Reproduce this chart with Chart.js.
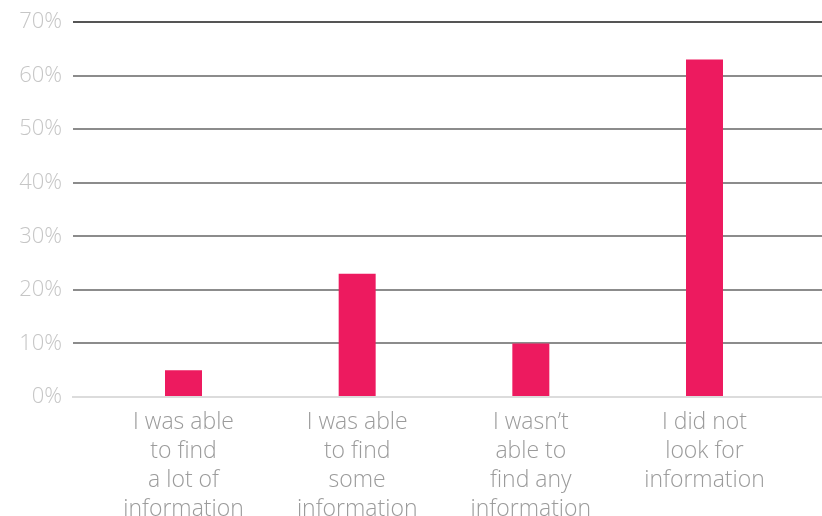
<!DOCTYPE html>
<html>
<head>
<meta charset="utf-8">
<script src="https://cdn.jsdelivr.net/npm/chart.js@4/dist/chart.umd.min.js"></script>
<style>
  html, body { margin: 0; padding: 0; background: #ffffff; }
  #wrap { width: 822px; height: 516px; }
</style>
</head>
<body>
<div id="wrap"><canvas id="infoChart" width="822" height="516"></canvas></div>
<script>
// Answer categories (multi-line labels as shown under each bar)
const categories = [
    ['I was able', 'to find', 'a lot of', 'information'],
    ['I was able', 'to find', 'some', 'information'],
    ['I wasn\u2019t', 'able to', 'find any', 'information'],
    ['I did not', 'look for', 'information']
];

// Share of respondents, in percent
const shares = [5, 23, 10, 63];

// Y axis ticks
const yTicks = [0, 10, 20, 30, 40, 50, 60, 70];

const FONT = '"Open Sans", "DejaVu Sans", sans-serif';

const ctx = document.getElementById('infoChart');

new Chart(ctx, {
    type: 'bar',
    data: {
        datasets: [{
            label: 'Share',
            data: shares.map((v, i) => ({ x: i, y: v })),
            backgroundColor: '#ED1A5F',
            borderWidth: 0,
            categoryPercentage: 1,
            barPercentage: 0.213
        }]
    },
    options: {
        responsive: false,
        animation: false,
        layout: {
            padding: { top: 20, right: 0, bottom: 0, left: 0 }
        },
        plugins: {
            legend: { display: false },
            tooltip: { enabled: false }
        },
        scales: {
            x: {
                type: 'linear',
                offset: false,
                min: -0.6363,
                max: 3.6766,
                afterBuildTicks: function (scale) {
                    scale.ticks = categories.map((c, i) => ({ value: i }));
                },
                afterFit: function (scale) {
                    scale.height = 119;
                },
                grid: {
                    display: false,
                    drawTicks: false
                },
                border: {
                    display: true,
                    color: '#dcdcdc',
                    width: 2
                },
                ticks: {
                    autoSkip: false,
                    maxRotation: 0,
                    padding: 11,
                    color: '#9b9b9b',
                    font: { family: FONT, size: 23, weight: '300', lineHeight: 1.26 },
                    callback: function (value) {
                        return categories[value] || '';
                    }
                }
            },
            y: {
                min: 0,
                max: 70,
                afterBuildTicks: function (scale) {
                    scale.ticks = yTicks.map(v => ({ value: v }));
                },
                afterFit: function (scale) {
                    scale.width = 73;
                },
                border: { display: false },
                grid: {
                    drawTicks: false,
                    lineWidth: 2,
                    color: function (c) {
                        if (c.tick.value === 0) return '#dcdcdc';
                        if (c.tick.value === 70) return '#555555';
                        return '#8c8c8c';
                    }
                },
                ticks: {
                    padding: 11,
                    color: '#c6c6c6',
                    font: { family: FONT, size: 22, weight: '300', lineHeight: 1 },
                    callback: function (value) {
                        return value + '%';
                    }
                }
            }
        }
    }
});
</script>
</body>
</html>
